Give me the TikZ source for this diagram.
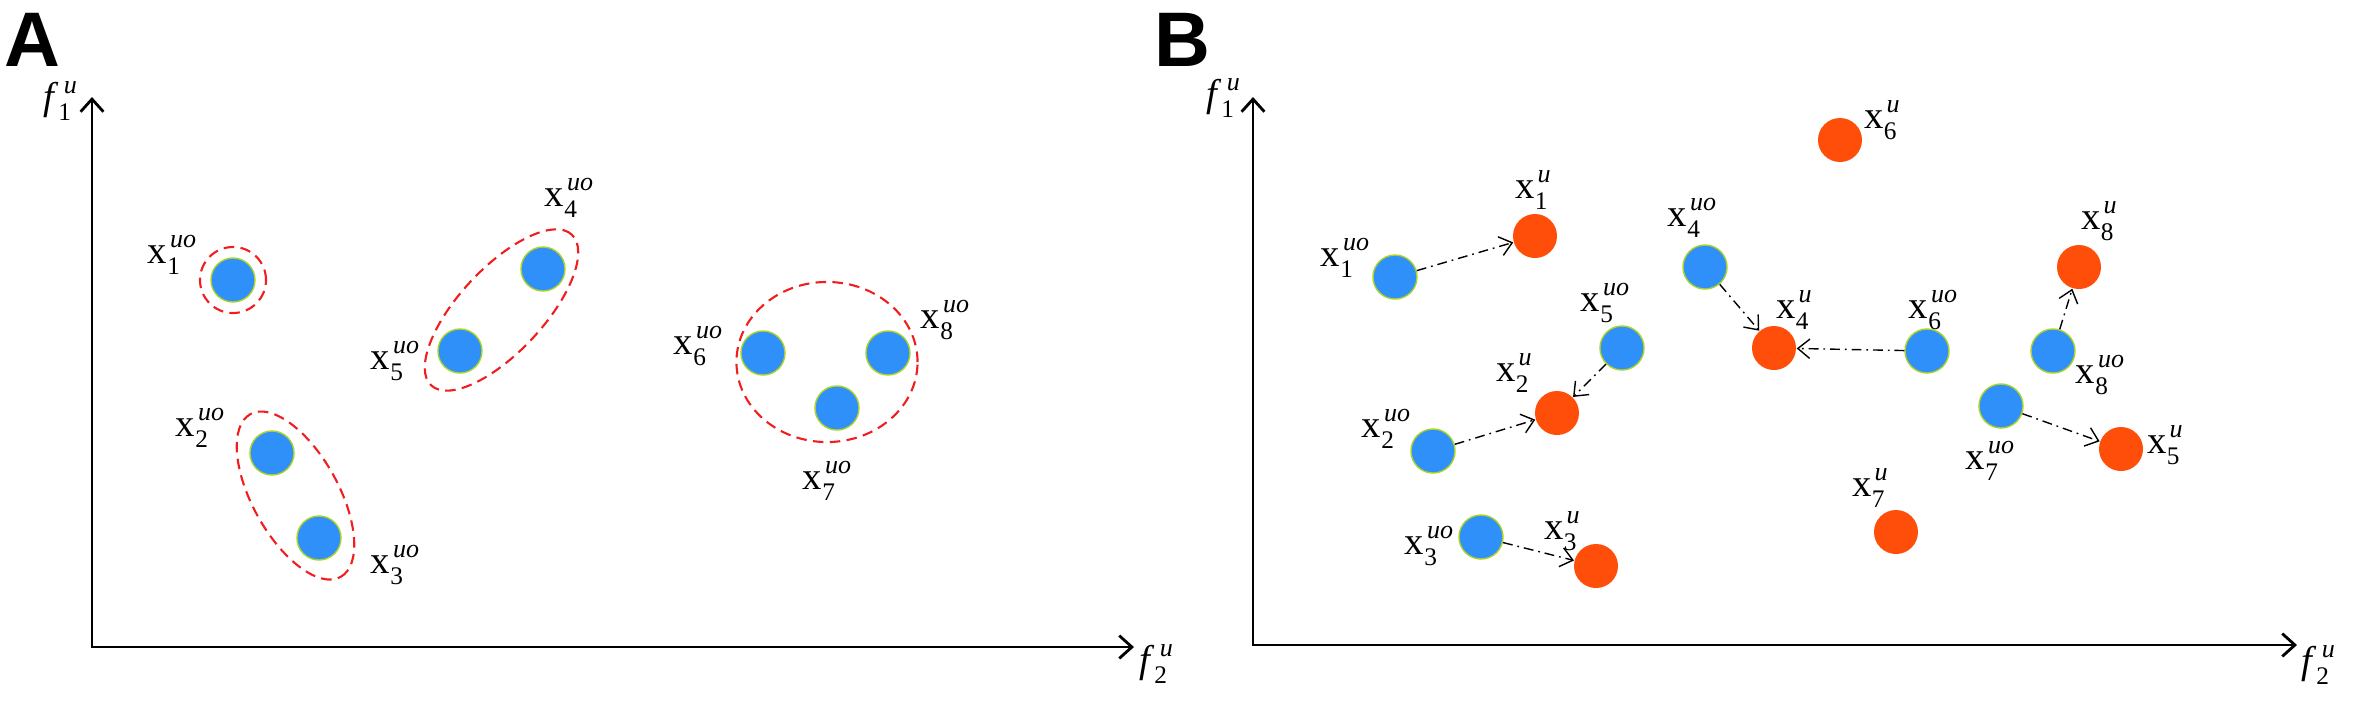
\documentclass[tikz,border=0pt]{standalone}
\usepackage{amsmath}
\usepackage{fontspec}
\setmainfont{Liberation Serif}
\newfontfamily\panelfont{Liberation Sans}
\usepackage{xcolor}
\usepackage{tikz}
\usetikzlibrary{arrows.meta}
\usetikzlibrary{calc}

\definecolor{obsblue}{RGB}{48,144,250}
\definecolor{rimgreen}{RGB}{170,210,40}
\definecolor{unlorange}{RGB}{255,78,10}
\definecolor{grpred}{RGB}{240,30,30}

% point labels: upright x, italic superscript, upright index below
\newcommand{\xl}[2]{x\ooalign{\raisebox{4.6pt}{\kern0.8pt\fontsize{7.4}{8}\selectfont\itshape #2}\cr
    \raisebox{-3pt}{\fontsize{7.2}{8}\selectfont #1}\cr}}
\newcommand{\fl}[1]{\textit{f}\ooalign{\raisebox{4.6pt}{\kern1.6pt\fontsize{7.4}{8}\selectfont\itshape u}\cr
    \raisebox{-3pt}{\fontsize{7.2}{8}\selectfont #1}\cr}}

\begin{document}
\begin{tikzpicture}[x=0.01cm, y=-0.01cm,
        axis/.style={{Straight Barb[length=3.6pt,width=6.5pt]}-{Straight Barb[length=3.6pt,width=6.5pt]}, line width=0.8pt},
        obs/.style={circle, fill=obsblue, draw=rimgreen, line width=0.4pt, minimum size=0.44cm, inner sep=0pt},
        unl/.style={circle, fill=unlorange, minimum size=0.44cm, inner sep=0pt},
        grp/.style={draw=grpred, line width=0.6pt, dash pattern=on 3pt off 1.8pt},
        move/.style={-{Straight Barb[length=3.4pt,width=5.5pt]}, line width=0.4pt,
            dash pattern=on 2.8pt off 1.4pt on 0.5pt off 1.4pt},
        lab/.style={inner sep=0pt, font=\fontsize{11}{13}\selectfont},
        panel/.style={inner sep=0pt, font=\panelfont\bfseries\fontsize{22}{24}\selectfont}]
    \useasboundingbox (0,0) rectangle (2362,714);

    % panel A
    \node [panel] (pA) at (32,40) {A};
    \coordinate (oA) at (92,647);
    \coordinate (yA) at (92,97);
    \coordinate (xA) at (1134,647);
    \draw [axis] (yA) -- (oA) -- (xA);
    \node [lab] (fA1) at (60,101) {\fl{1}};
    \node [lab] (fA2) at (1156,664) {\fl{2}};

    \node [obs] (a1) at (233,280) {};
    \node [obs] (a2) at (272,453) {};
    \node [obs] (a3) at (319,538) {};
    \node [obs] (a4) at (543,269) {};
    \node [obs] (a5) at (460,351) {};
    \node [obs] (a6) at (763,353) {};
    \node [obs] (a7) at (837,408) {};
    \node [obs] (a8) at (888,353) {};

    \node [lab] (la1) at (172,255) {\xl{1}{uo}};
    \node [lab] (la2) at (200,428) {\xl{2}{uo}};
    \node [lab] (la3) at (395,565) {\xl{3}{uo}};
    \node [lab] (la4) at (569,198) {\xl{4}{uo}};
    \node [lab] (la5) at (395,361) {\xl{5}{uo}};
    \node [lab] (la6) at (698,346) {\xl{6}{uo}};
    \node [lab] (la7) at (827,481) {\xl{7}{uo}};
    \node [lab] (la8) at (945,320) {\xl{8}{uo}};

    % groups
    \coordinate (m23) at ($(a2)!0.5!(a3)$);
    \coordinate (m45) at ($(a4)!0.5!(a5)$);
    \draw [grp] (a1) circle [radius=0.33cm];
    \draw [grp, rotate around={-61:(m23)}] (m23) ellipse [x radius=0.93cm, y radius=0.43cm];
    \draw [grp, rotate around={47:(m45)}] (m45) ellipse [x radius=1.03cm, y radius=0.42cm];
    \draw [grp] (827,362) ellipse [x radius=0.905cm, y radius=0.80cm];

    % panel B
    \node [panel] (pB) at (1182,40) {B};
    \coordinate (oB) at (1253,645);
    \coordinate (yB) at (1253,97);
    \coordinate (xB) at (2297,645);
    \draw [axis] (yB) -- (oB) -- (xB);
    \node [lab] (fB1) at (1223,98) {\fl{1}};
    \node [lab] (fB2) at (2318,665) {\fl{2}};

    \node [obs] (b1) at (1395,277) {};
    \node [obs] (b2) at (1433,451) {};
    \node [obs] (b3) at (1481,537) {};
    \node [obs] (b4) at (1705,267) {};
    \node [obs] (b5) at (1622,348) {};
    \node [obs] (b6) at (1927,351) {};
    \node [obs] (b7) at (2001,406) {};
    \node [obs] (b8) at (2053,351) {};

    \node [unl] (b1u) at (1535,236) {};
    \node [unl] (b2u) at (1557,413) {};
    \node [unl] (b3u) at (1596,566) {};
    \node [unl] (b4u) at (1774,348) {};
    \node [unl] (b5u) at (2121,449) {};
    \node [unl] (b6u) at (1840,140) {};
    \node [unl] (b7u) at (1896,532) {};
    \node [unl] (b8u) at (2079,267) {};

    \node [lab] (lb1) at (1345,258) {\xl{1}{uo}};
    \node [lab] (lb2) at (1386,429) {\xl{2}{uo}};
    \node [lab] (lb3) at (1429,546) {\xl{3}{uo}};
    \node [lab] (lb4) at (1692,218) {\xl{4}{uo}};
    \node [lab] (lb5) at (1605,303) {\xl{5}{uo}};
    \node [lab] (lb6) at (1933,310) {\xl{6}{uo}};
    \node [lab] (lb7) at (1990,461) {\xl{7}{uo}};
    \node [lab] (lb8) at (2100,375) {\xl{8}{uo}};

    \node [lab] (lb1u) at (1533,190) {\xl{1}{u}};
    \node [lab] (lb2u) at (1514,373) {\xl{2}{u}};
    \node [lab] (lb3u) at (1562,531) {\xl{3}{u}};
    \node [lab] (lb4u) at (1794,310) {\xl{4}{u}};
    \node [lab] (lb5u) at (2165,445) {\xl{5}{u}};
    \node [lab] (lb6u) at (1882,120) {\xl{6}{u}};
    \node [lab] (lb7u) at (1870,488) {\xl{7}{u}};
    \node [lab] (lb8u) at (2099,221) {\xl{8}{u}};

    \path [move] (b1) edge (b1u);
    \path [move] (b2) edge (b2u);
    \path [move] (b3) edge (b3u);
    \path [move] (b4) edge (b4u);
    \path [move] (b5) edge (b2u);
    \path [move] (b6) edge (b4u);
    \path [move] (b7) edge (b5u);
    \path [move] (b8) edge (b8u);
\end{tikzpicture}
\end{document}
